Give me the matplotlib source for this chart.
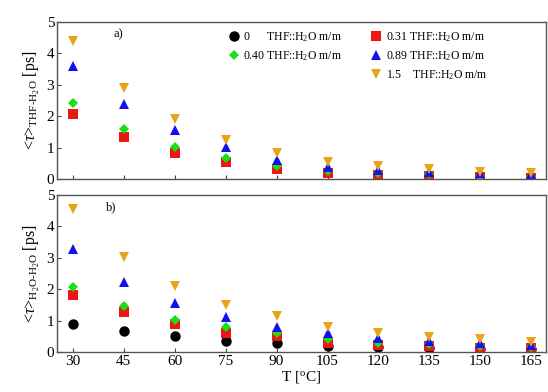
import matplotlib
matplotlib.use("Agg")
import matplotlib.pyplot as plt
from matplotlib.lines import Line2D

plt.rcParams['font.family'] = ['Liberation Serif', 'DejaVu Serif']
plt.rcParams['mathtext.fontset'] = 'custom'
plt.rcParams['mathtext.rm'] = 'Liberation Serif'
plt.rcParams['mathtext.it'] = 'Liberation Serif:italic'

T = [30, 45, 60, 75, 90, 105, 120, 135, 150, 165]
xticks = [30, 45, 60, 75, 90, 105, 120, 135, 150, 165]

# panel a) <tau> THF-H2O
a_031 = [2.07, 1.34, 0.84, 0.54, 0.32, 0.20, 0.13, 0.10, 0.06, 0.05]
a_040 = [2.42, 1.60, 1.02, 0.67, 0.41, 0.27, 0.20, 0.16, 0.10, 0.07]
a_089 = [3.60, 2.39, 1.56, 1.02, 0.60, 0.40, 0.29, 0.22, 0.18, 0.15]
a_150 = [4.40, 2.90, 1.90, 1.24, 0.83, 0.54, 0.41, 0.32, 0.22, 0.19]

# panel b) <tau> H2O-H2O
b_000 = [0.90, 0.66, 0.50, 0.35, 0.30, 0.18, 0.15, 0.14, 0.10, 0.09]
b_031 = [1.80, 1.26, 0.88, 0.62, 0.50, 0.30, 0.21, 0.18, 0.14, 0.12]
b_040 = [2.08, 1.45, 1.03, 0.78, 0.62, 0.40, 0.30, 0.24, 0.18, 0.15]
b_089 = [3.28, 2.24, 1.57, 1.10, 0.80, 0.62, 0.43, 0.34, 0.28, 0.22]
b_150 = [4.55, 3.03, 2.10, 1.48, 1.13, 0.80, 0.62, 0.49, 0.40, 0.33]

labels = {
    '0': '0      THF::H$_2$O m/m',
    '031': '0.31 THF::H$_2$O m/m',
    '040': '0.40 THF::H$_2$O m/m',
    '089': '0.89 THF::H$_2$O m/m',
    '150': '1.5    THF::H$_2$O m/m',
}
styles = {
    '0': dict(marker='o', color='black'),
    '031': dict(marker='s', color='#f01414'),
    '040': dict(marker='D', color='#18e018'),
    '089': dict(marker='^', color='#1010f0'),
    '150': dict(marker='v', color='#e8a317'),
}
msize = {'o': 7.5, 's': 6.5, 'D': 5.5, '^': 7.5, 'v': 7.5}

fig = plt.figure(figsize=(5.48, 3.92), dpi=100)
ax1 = fig.add_axes([0.104, 0.543, 0.892, 0.401])
ax2 = fig.add_axes([0.104, 0.102, 0.892, 0.401])

def plot(ax, key, vals):
    st = styles[key]
    ax.plot(T, vals, linestyle='none', marker=st['marker'], color=st['color'],
            markersize=msize[st['marker']], markeredgewidth=0)

plot(ax1, '031', a_031)
plot(ax1, '040', a_040)
plot(ax1, '089', a_089)
plot(ax1, '150', a_150)

plot(ax2, '0', b_000)
plot(ax2, '031', b_031)
plot(ax2, '040', b_040)
plot(ax2, '089', b_089)
plot(ax2, '150', b_150)

for ax in (ax1, ax2):
    ax.set_xlim(25.3, 169.3)
    ax.set_ylim(0, 5)
    ax.set_yticks([0, 1, 2, 3, 4, 5])
    ax.set_xticks(xticks)
    ax.tick_params(direction='in', labelsize=11, length=3, width=0.8, color='#444444',
                   pad=2)
    for sp in ax.spines.values():
        sp.set_color('#555555')
        sp.set_linewidth(1.0)

ax1.tick_params(labelbottom=False)
ax2.set_xticklabels([str(t) for t in xticks])

ax1.set_ylabel(r'<$\tau$>$_{\rm THF\text{-}H_2O}$ [ps]', fontsize=11.5, labelpad=3)
ax2.set_ylabel(r'<$\tau$>$_{\rm H_2O\text{-}H_2O}$ [ps]', fontsize=11.5, labelpad=3)
ax2.set_xlabel(r'T [$^{\rm o}$C]', fontsize=11, labelpad=1)

ax1.text(0.115, 0.9, 'a)', transform=ax1.transAxes, fontsize=9)
ax2.text(0.1, 0.9, 'b)', transform=ax2.transAxes, fontsize=9)

def handle(key):
    st = styles[key]
    return Line2D([], [], linestyle='none', marker=st['marker'], color=st['color'],
                  markersize=msize[st['marker']], markeredgewidth=0)

blank = Line2D([], [], linestyle='none', marker=None)
handles = [handle('0'), handle('040'), blank, handle('031'), handle('089'), handle('150')]
labs = [labels['0'], labels['040'], '', labels['031'], labels['089'], labels['150']]
ax1.legend(handles, labs, ncol=2, loc='upper left', bbox_to_anchor=(0.33, 1.0),
           frameon=False, fontsize=8.5, handletextpad=0.2, columnspacing=2.3,
           labelspacing=0.45, handlelength=1.2, borderaxespad=0.3)

fig.savefig('out.png', dpi=100)
